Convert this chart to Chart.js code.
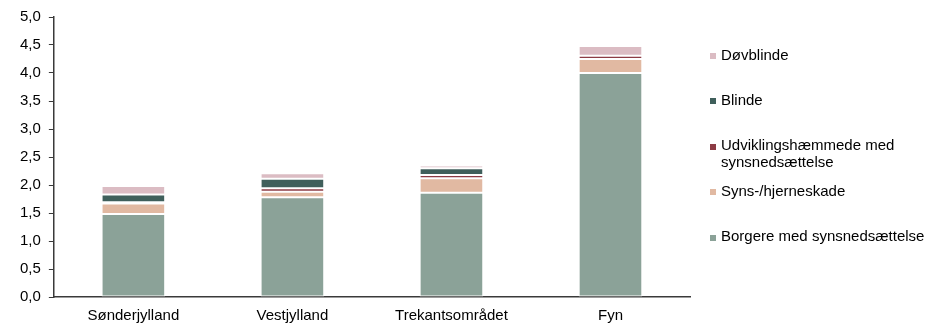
<!DOCTYPE html>
<html lang="da">
<head>
  <meta charset="UTF-8" />
  <title>Synsnedsættelse fordelt på område</title>
  <script src="https://cdn.jsdelivr.net/npm/chart.js"></script>
  <style>
    html, body { margin: 0; padding: 0; background: #fff; }
    #wrap { position: relative; width: 942px; height: 323px; }
    #legend {
      position: absolute; left: 710px; top: 0;
      font-family: "Liberation Sans", Arial, sans-serif; font-size: 15px; line-height: 16.5px; color: #000;
    }
    .item { position: absolute; left: 0; white-space: nowrap; }
    .box { position: absolute; left: 0; width: 6px; height: 6px; }
    .txt { position: absolute; left: 11px; }
  </style>
</head>
<body>
  <div id="wrap">
    <canvas id="chart" width="942" height="323"></canvas>
    <div id="legend"></div>
  </div>

  <script>
    const categories = ['Sønderjylland', 'Vestjylland', 'Trekantsområdet', 'Fyn'];
    const borgere = [1.48, 1.78, 1.86, 4.00];
    const synsHjerne = [0.19, 0.10, 0.26, 0.25];
    const udviklings = [0.02, 0.06, 0.06, 0.06];
    const blinde = [0.14, 0.17, 0.12, 0.00];
    const doevblinde = [0.15, 0.10, 0.05, 0.17];
    const yTicks = [0, 0.5, 1, 1.5, 2, 2.5, 3, 3.5, 4, 4.5, 5];

    const series = [
      { label: 'Borgere med synsnedsættelse', data: borgere, color: '#8ba298' },
      { label: 'Syns-/hjerneskade', data: synsHjerne, color: '#e1b9a2' },
      { label: ['Udviklingshæmmede med', 'synsnedsættelse'], data: udviklings, color: '#8c3b44' },
      { label: 'Blinde', data: blinde, color: '#3f5f5b' },
      { label: 'Døvblinde', data: doevblinde, color: '#dbbcc3' }
    ];

    const font = { family: '"Liberation Sans", Arial, sans-serif', size: 15 };

    const chart = new Chart(document.getElementById('chart'), {
      type: 'bar',
      data: {
        labels: categories,
        datasets: series.map(s => ({
          label: Array.isArray(s.label) ? s.label.join(' ') : s.label,
          data: s.data,
          backgroundColor: s.color,
          borderColor: '#ffffff',
          borderWidth: 1,
          borderSkipped: false,
          categoryPercentage: 1,
          barPercentage: 0.4
        }))
      },
      options: {
        responsive: false,
        animation: false,
        layout: { padding: { top: 8, right: 252, left: 12, bottom: -12 } },
        plugins: { legend: { display: false }, tooltip: { enabled: false } },
        scales: {
          x: {
            stacked: true,
            grid: { display: false, drawTicks: false },
            border: { display: true, color: '#3a3a3a', width: 1.5 },
            ticks: { color: '#000', font: font, padding: 10 }
          },
          y: {
            stacked: true,
            min: 0,
            max: 5,
            afterBuildTicks: axis => { axis.ticks = yTicks.map(v => ({ value: v })); },
            grid: { drawOnChartArea: false, tickLength: 5, color: '#3a3a3a' },
            border: { display: true, color: '#3a3a3a', width: 1.5 },
            ticks: {
              color: '#000', font: font, padding: 8,
              callback: v => v.toFixed(1).replace('.', ',')
            }
          }
        }
      }
    });

    // legend drawn as html, top series first
    const legendEl = document.getElementById('legend');
    const firstTop = 46.5;
    const pitch = 45.4;
    series.slice().reverse().forEach((s, i) => {
      const item = document.createElement('div');
      item.className = 'item';
      item.style.top = (firstTop + i * pitch) + 'px';
      const box = document.createElement('span');
      box.className = 'box';
      box.style.background = s.color;
      box.style.top = '6.5px';
      const txt = document.createElement('span');
      txt.className = 'txt';
      txt.innerHTML = (Array.isArray(s.label) ? s.label : [s.label]).join('<br>');
      item.appendChild(box);
      item.appendChild(txt);
      legendEl.appendChild(item);
    });
  </script>
</body>
</html>
